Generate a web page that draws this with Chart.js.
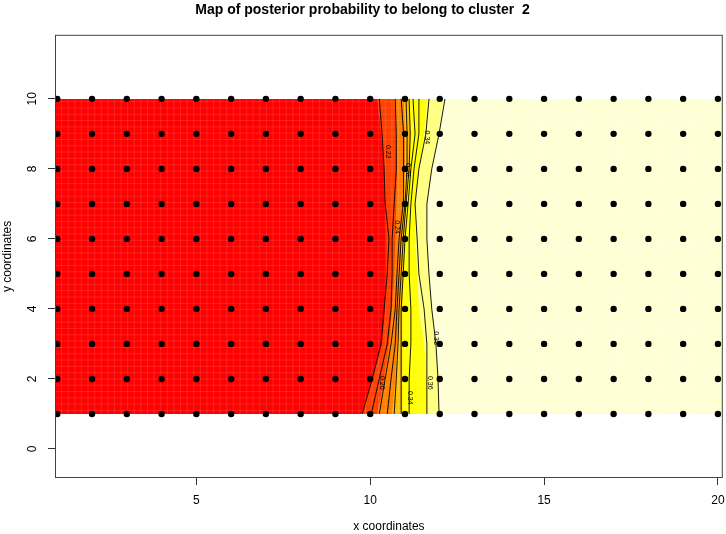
<!DOCTYPE html>
<html>
<head>
<meta charset="utf-8">
<script src="https://cdn.jsdelivr.net/npm/chart.js@4"></script>
<style>
  html, body { margin: 0; padding: 0; background: #fff; }
  #wrap { width: 726px; height: 534px; }
</style>
</head>
<body>
<div id="wrap"><canvas id="map" width="726" height="534"></canvas></div>
<script>
// sites of the grid
const gridX = [1, 2, 3, 4, 5, 6, 7, 8, 9, 10, 11, 12, 13, 14, 15, 16, 17, 18, 19, 20];
const gridY = [1, 2, 3, 4, 5, 6, 7, 8, 9, 10];
const xTicks = [5, 10, 15, 20];
const yTicks = [0, 2, 4, 6, 8, 10];

// heat colours, low -> high posterior probability
const bandColors = ['#FF0000', '#FF4000', '#FF8000', '#FFBF00', '#FFFF00', '#FFFF80', '#FFFFD5'];
// where each colour starts, one x per row y = 1..10
const start2 = [9.74, 10.06, 10.34, 10.43, 10.46, 10.46, 10.43, 10.40, 10.31, 10.20];
const start3 = [10.20, 10.40, 10.54, 10.63, 10.69, 10.72, 10.75, 10.77, 10.75, 10.69];
const start4 = [10.63, 10.72, 10.77, 10.83, 10.86, 10.89, 10.95, 11.00, 11.00, 10.97];
const start5 = [10.92, 10.92, 10.92, 10.92, 10.95, 10.97, 11.03, 11.12, 11.17, 11.12];
const start6 = [11.63, 11.63, 11.55, 11.40, 11.35, 11.29, 11.29, 11.40, 11.55, 11.63];
const start7 = [11.98, 11.98, 11.89, 11.77, 11.69, 11.63, 11.63, 11.77, 11.98, 12.12];

// contour lines, x at each row y = 1..10
const contourLevels = ['0.22', '0.24', '0.26', '0.28', '0.3', '0.32', '0.34', '0.36', '0.38'];
const c022 = [9.77, 10.06, 10.31, 10.40, 10.49, 10.54, 10.43, 10.40, 10.34, 10.26];
const c024 = [10.03, 10.26, 10.49, 10.60, 10.63, 10.63, 10.69, 10.75, 10.75, 10.72];
const c026 = [10.26, 10.43, 10.60, 10.72, 10.77, 10.83, 10.95, 10.97, 10.95, 10.89];
const c028 = [10.49, 10.60, 10.72, 10.77, 10.83, 10.89, 11.00, 11.06, 11.06, 11.03];
const c030 = [10.69, 10.75, 10.80, 10.83, 10.89, 10.95, 11.03, 11.12, 11.15, 11.12];
const c032 = [10.89, 10.89, 10.89, 10.89, 10.95, 11.00, 11.09, 11.17, 11.29, 11.23];
const c034 = [11.12, 11.12, 11.17, 11.17, 11.12, 11.12, 11.17, 11.26, 11.40, 11.40];
const c036 = [11.63, 11.63, 11.63, 11.55, 11.40, 11.35, 11.29, 11.40, 11.60, 11.69];
const c038 = [11.98, 11.95, 11.89, 11.77, 11.69, 11.63, 11.63, 11.77, 11.98, 12.15];

// contour labels
const labelText = ['0.22', '0.28', '0.24', '0.34', '0.38', '0.36', '0.34', '0.26'];
const labelX = [10.51, 11.09, 10.77, 11.63, 11.89, 11.71, 11.14, 10.34];
const labelY = [8.49, 7.97, 6.34, 8.9, 3.17, 1.89, 1.46, 1.89];

const FONT = "'Liberation Sans', Arial, Helvetica, sans-serif";

const contours = [c022, c024, c026, c028, c030, c032, c034, c036, c038];
const bandStarts = [null, start2, start3, start4, start5, start6, start7];

const heatMap = {
    id: 'heatMap',
    beforeDatasetsDraw(chart) {
        const {ctx, chartArea: a, scales: {x, y}} = chart;
        ctx.save();
        ctx.beginPath();
        ctx.rect(a.left, a.top, a.width, a.height);
        ctx.clip();
        const yTop = Math.round(y.getPixelForValue(gridY[gridY.length - 1]));
        const yBot = Math.round(y.getPixelForValue(gridY[0]));
        // each colour painted from its start to the right edge, next one on top
        bandColors.forEach((col, k) => {
            const s = bandStarts[k];
            ctx.beginPath();
            ctx.moveTo(a.right + 2, yBot);
            ctx.lineTo(a.right + 2, yTop);
            for (let i = gridY.length - 1; i >= 0; i--) {
                const px = s ? x.getPixelForValue(s[i]) : a.left - 2;
                const py = i === 0 ? yBot : (i === gridY.length - 1 ? yTop : y.getPixelForValue(gridY[i]));
                ctx.lineTo(px, py);
            }
            ctx.closePath();
            ctx.fillStyle = col;
            ctx.fill();
        });
        // seams between image cells
        ctx.strokeStyle = 'rgba(255,255,255,0.2)';
        ctx.lineWidth = 0.6;
        ctx.beginPath();
        for (let v = x.min; v < x.max; v += 0.19) {
            const px = x.getPixelForValue(v);
            ctx.moveTo(px, yTop);
            ctx.lineTo(px, yBot);
        }
        for (let v = 1.1; v < 10; v += 0.18) {
            const py = y.getPixelForValue(v);
            ctx.moveTo(a.left, py);
            ctx.lineTo(a.right, py);
        }
        ctx.stroke();
        ctx.restore();
    },
    afterDatasetsDraw(chart) {
        const {ctx, chartArea: a, scales: {x, y}} = chart;
        ctx.save();
        // contour labels
        ctx.fillStyle = '#000';
        ctx.font = '7px ' + FONT;
        ctx.textAlign = 'center';
        ctx.textBaseline = 'middle';
        labelText.forEach((t, i) => {
            ctx.save();
            ctx.translate(x.getPixelForValue(labelX[i]), y.getPixelForValue(labelY[i]));
            ctx.rotate(Math.PI / 2);
            ctx.fillText(t, 0, 0);
            ctx.restore();
        });
        // y tick labels, parallel to the axis
        ctx.font = '12px ' + FONT;
        yTicks.forEach(v => {
            ctx.save();
            ctx.translate(33, y.getPixelForValue(v));
            ctx.rotate(-Math.PI / 2);
            ctx.fillText(String(v), 0, 0);
            ctx.restore();
        });
        // box
        ctx.strokeStyle = '#444';
        ctx.lineWidth = 1;
        ctx.strokeRect(a.left + 0.5, a.top + 0.5, a.width - 1, a.height - 1);
        ctx.restore();
    }
};

const points = [];
gridY.forEach(yy => gridX.forEach(xx => points.push({x: xx, y: yy})));

const datasets = [{
    data: points,
    backgroundColor: '#000',
    borderWidth: 0,
    pointRadius: 3.2,
    pointHoverRadius: 3.2
}];
contours.forEach((c, k) => {
    datasets.push({
        label: contourLevels[k],
        data: gridY.map((yy, i) => ({x: c[i], y: yy})),
        showLine: true,
        borderColor: '#000',
        borderWidth: 0.9,
        pointRadius: 0,
        tension: 0
    });
});

new Chart(document.getElementById('map'), {
    type: 'scatter',
    data: {datasets},
    options: {
        responsive: false,
        animation: false,
        events: [],
        layout: {padding: {left: 0, right: 1, top: 0, bottom: 0}},
        plugins: {
            legend: {display: false},
            tooltip: {enabled: false},
            title: {
                display: true,
                text: 'Map of posterior probability to belong to cluster  2',
                color: '#000',
                font: {family: FONT, size: 14, weight: 'bold'},
                padding: {top: 2, bottom: 16}
            }
        },
        scales: {
            x: {
                type: 'linear',
                min: 0.935,
                max: 20.14,
                afterBuildTicks: s => { s.ticks = xTicks.map(v => ({value: v})); },
                afterFit: s => { s.height = 56; s.paddingLeft = 0; s.paddingRight = 0; },
                border: {display: false},
                grid: {drawOnChartArea: false, drawTicks: true, tickLength: 7, color: '#333'},
                ticks: {color: '#000', padding: 8, font: {family: FONT, size: 12}, maxRotation: 0},
                title: {display: true, text: 'x coordinates', color: '#000',
                        font: {family: FONT, size: 12}, padding: {top: 0, bottom: 0}}
            },
            y: {
                type: 'linear',
                min: -0.83,
                max: 11.83,
                afterBuildTicks: s => { s.ticks = yTicks.map(v => ({value: v})); },
                afterFit: s => { s.width = 55; s.paddingTop = 0; s.paddingBottom = 0; },
                border: {display: false},
                grid: {drawOnChartArea: false, drawTicks: true, tickLength: 7, color: '#333'},
                ticks: {color: 'rgba(0,0,0,0)', font: {family: FONT, size: 12}},
                title: {display: true, text: 'y coordinates', color: '#000',
                        font: {family: FONT, size: 12}, padding: {top: 0, bottom: 0}}
            }
        }
    },
    plugins: [heatMap]
});
</script>
</body>
</html>
